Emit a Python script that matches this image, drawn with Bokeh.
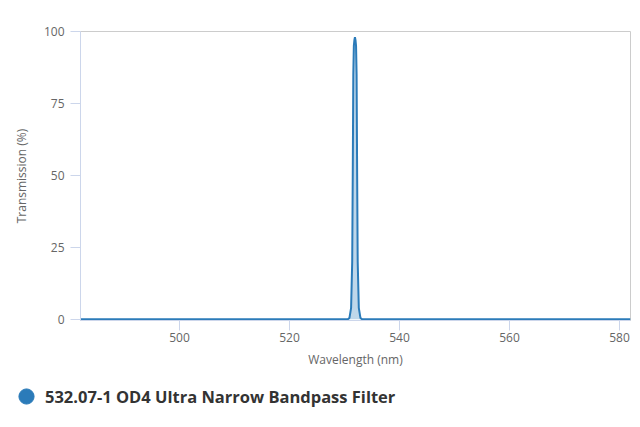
from bokeh.plotting import figure
from bokeh.layouts import column, row
from bokeh.models import ColumnDataSource, Range1d, FixedTicker, Legend, LegendItem
from bokeh.embed import file_html
from bokeh.resources import INLINE

# transmission curve
wavelength = [482.0, 530.6, 530.9, 531.2, 531.4, 531.5, 531.6, 531.7, 531.8, 531.9,
              532.0, 532.1, 532.2, 532.3, 532.4, 532.6, 532.9, 533.2, 582.0]
transmission = [0, 0, 0.5, 4, 20, 50, 85, 95, 97, 98,
                97, 95, 85, 50, 20, 4, 0.5, 0, 0]
series_name = "532.07-1 OD4 Ultra Narrow Bandpass Filter"
x_ticks = [500, 520, 540, 560, 580]
y_ticks = [0, 25, 50, 75, 100]

blue = "#2b7bb9"
axis_col = "#ccd6eb"
txt_col = "#666666"
font = "Open Sans"

src = ColumnDataSource(data=dict(x=wavelength, y=transmission))

p = figure(width=632, height=372, output_backend="svg", toolbar_location=None,
           x_range=Range1d(482, 582), y_range=Range1d(-0.4, 100),
           min_border_left=80, min_border_right=2, min_border_top=31, min_border_bottom=52)
p.background_fill_color = "white"
p.border_fill_color = "white"
p.outline_line_color = "#cccccc"
p.grid.visible = False

p.varea(x="x", y1=0, y2="y", source=src, fill_color=blue, fill_alpha=0.3)
p.line(x="x", y="y", source=src, line_color=blue, line_width=2)

for ax in (p.xaxis[0], p.yaxis[0]):
    ax.axis_line_color = axis_col
    ax.major_tick_line_color = axis_col
    ax.major_tick_out = 10
    ax.major_tick_in = 0
    ax.minor_tick_line_color = None
    ax.major_label_text_font = font
    ax.major_label_text_font_size = "12px"
    ax.major_label_text_color = txt_col
    ax.axis_label_text_font = font
    ax.axis_label_text_font_size = "12px"
    ax.axis_label_text_font_style = "normal"
    ax.axis_label_text_color = txt_col

p.xaxis.ticker = FixedTicker(ticks=x_ticks)
p.yaxis.ticker = FixedTicker(ticks=y_ticks)
p.xaxis.axis_label = "Wavelength (nm)"
p.yaxis.axis_label = "Transmission (%)"
p.xaxis.major_label_standoff = 2
p.xaxis.axis_label_standoff = 6
p.yaxis.major_label_standoff = 6
p.yaxis.axis_label_standoff = 11

# legend strip underneath the chart
leg = figure(width=632, height=50, output_backend="svg", toolbar_location=None,
             x_range=Range1d(0, 1), y_range=Range1d(0, 1),
             min_border_left=0, min_border_right=0, min_border_top=0, min_border_bottom=0,
             x_axis_location=None, y_axis_location=None)
leg.grid.visible = False
leg.outline_line_color = None
leg.background_fill_alpha = 0
dot = leg.scatter(x="x", y="y", source=src, marker="circle", size=15,
                  fill_color=blue, line_color=blue, visible=False)

legend = Legend(items=[LegendItem(label=series_name, renderers=[dot], index=0)],
                location=(7, 7), orientation="horizontal",
                border_line_color=None, background_fill_alpha=0,
                padding=0, margin=0, glyph_width=38, glyph_height=38,
                label_text_font=font, label_text_font_style="bold",
                label_text_font_size="16.5px", label_text_color="#333333",
                label_standoff=-11)
leg.add_layout(legend, "center")

layout = column(p, row(leg), spacing=0)
open("out.html", "w").write(file_html(layout, INLINE))
